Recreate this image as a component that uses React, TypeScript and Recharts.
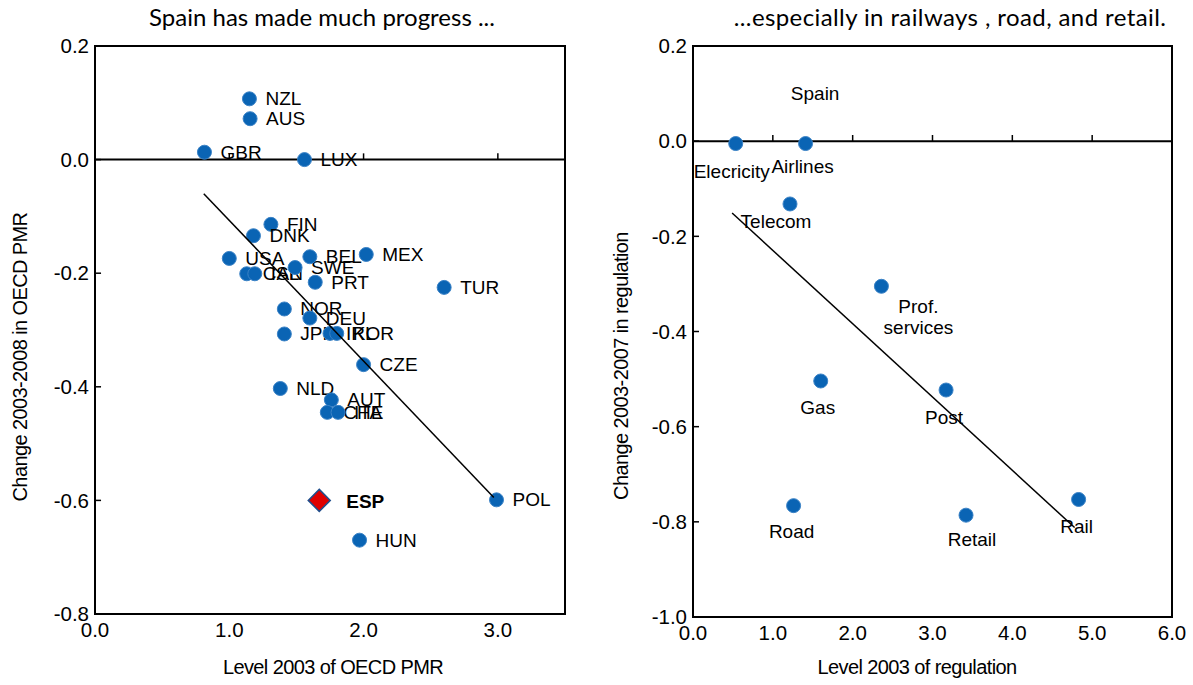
import React from 'react';
import { ScatterChart, Scatter, XAxis, YAxis, ReferenceArea, ReferenceLine, ReferenceDot } from 'recharts';

// Left panel: countries, PMR level 2003 vs change 2003-2008
const countries = ['NZL', 'AUS', 'GBR', 'LUX', 'FIN', 'DNK', 'USA', 'CAN', 'ISL', 'SWE', 'BEL', 'MEX', 'PRT', 'TUR', 'NOR', 'DEU', 'JPN', 'IRL', 'KOR', 'CZE', 'NLD', 'AUT', 'CHE', 'ITA', 'HUN', 'POL'];
const pmrLevel = [1.15, 1.155, 0.815, 1.56, 1.31, 1.18, 1.0, 1.13, 1.19, 1.49, 1.6, 2.02, 1.64, 2.6, 1.41, 1.6, 1.41, 1.75, 1.8, 2.0, 1.38, 1.76, 1.73, 1.81, 1.97, 2.99];
const pmrChange = [0.107, 0.072, 0.013, 0.0, -0.114, -0.134, -0.174, -0.201, -0.201, -0.19, -0.171, -0.167, -0.216, -0.225, -0.263, -0.279, -0.307, -0.306, -0.306, -0.361, -0.403, -0.423, -0.445, -0.445, -0.67, -0.599];
const spainLevel = [1.67];
const spainChange = [-0.6];
const pmrTrendX = [0.81, 2.97];
const pmrTrendY = [-0.06, -0.595];
const leftXTicks = [0, 1, 2, 3];
const leftYTicks = [-0.8, -0.6, -0.4, -0.2, 0, 0.2];

// Right panel: Spanish sectors, regulation level 2003 vs change 2003-2007
const sectors = ['Elecricity', 'Airlines', 'Telecom', 'Prof.|services', 'Gas', 'Post', 'Road', 'Retail', 'Rail'];
const sectorLevel = [0.535, 1.41, 1.215, 2.36, 1.6, 3.17, 1.26, 3.42, 4.83];
const sectorChange = [-0.005, -0.005, -0.132, -0.305, -0.504, -0.523, -0.766, -0.786, -0.753];
const sectorTrendX = [0.49, 4.78];
const sectorTrendY = [-0.151, -0.812];
const rightXTicks = [0, 1, 2, 3, 4, 5, 6];
const rightYTicks = [-1, -0.8, -0.6, -0.4, -0.2, 0, 0.2];

// label offsets (px) for the sector labels, relative to the dot
const sectorLabelPos: Record<string, [number, number]> = {
  'Elecricity': [-4, 28],
  'Airlines': [-3, 23],
  'Telecom': [-14, 18],
  'Prof.|services': [37, 20],
  'Gas': [-3, 27],
  'Post': [-2, 27],
  'Road': [-2, 26],
  'Retail': [6, 24],
  'Rail': [-2, 27],
};

const FONT = '"Liberation Sans", Arial, sans-serif';
const BLUE = '#0a64b4';
const LABEL_SIZE = 19;

const countryData = countries.map((name, i) => ({ name, x: pmrLevel[i], y: pmrChange[i] }));
const spainData = spainLevel.map((x, i) => ({ name: 'ESP', x, y: spainChange[i] }));
const pmrTrend = pmrTrendX.map((x, i) => ({ x, y: pmrTrendY[i] }));
const sectorData = sectors.map((name, i) => ({ name, x: sectorLevel[i], y: sectorChange[i] }));
const sectorTrend = sectorTrendX.map((x, i) => ({ x, y: sectorTrendY[i] }));

const tickStyle = { fontSize: 20.5, fill: '#000', fontFamily: FONT };

function CountryDot(props: any) {
  const { cx, cy, payload } = props;
  return (
    <g>
      <circle cx={cx} cy={cy} r={7} fill={BLUE} stroke="#3a82c6" strokeWidth={1} />
      <text x={cx + 16} y={cy} dominantBaseline="central" fontSize={LABEL_SIZE} fontFamily={FONT} fill="#000">
        {payload.name}
      </text>
    </g>
  );
}

function SpainDot(props: any) {
  const { cx, cy, payload } = props;
  const h = 11;
  return (
    <g>
      <polygon
        points={`${cx},${cy - h} ${cx + h},${cy} ${cx},${cy + h} ${cx - h},${cy}`}
        fill="#e00000"
        stroke="#1f4e8c"
        strokeWidth={1.5}
      />
      <text x={cx + 27} y={cy + 1} dominantBaseline="central" fontSize={LABEL_SIZE} fontWeight="bold" fontFamily={FONT} fill="#000">
        {payload.name}
      </text>
    </g>
  );
}

function SectorDot(props: any) {
  const { cx, cy, payload } = props;
  const [dx, dy] = sectorLabelPos[payload.name] || [0, 25];
  const lines = String(payload.name).split('|');
  return (
    <g>
      <circle cx={cx} cy={cy} r={7} fill={BLUE} stroke="#3a82c6" strokeWidth={1} />
      {lines.map((ln, i) => (
        <text key={i} x={cx + dx} y={cy + dy + i * 21} textAnchor="middle" dominantBaseline="central" fontSize={LABEL_SIZE} fontFamily={FONT} fill="#000">
          {ln}
        </text>
      ))}
    </g>
  );
}

const NoShape = () => <g />;

const titleStyle: React.CSSProperties = {
  position: 'absolute',
  top: 2,
  fontFamily: 'Lato, sans-serif',
  fontSize: 24,
  whiteSpace: 'nowrap',
  transform: 'translateX(-50%)',
  color: '#000',
};

const axisTitleStyle: React.CSSProperties = {
  position: 'absolute',
  fontFamily: FONT,
  fontSize: 20,
  letterSpacing: -0.6,
  whiteSpace: 'nowrap',
  color: '#000',
  lineHeight: '22px',
};

export default function App() {
  return (
    <div style={{ position: 'absolute', left: 0, top: 0, width: 1193, height: 685, background: '#fff', overflow: 'hidden' }}>
      <div style={{ ...titleStyle, left: 322 }}>Spain has made much progress ...</div>
      <div style={{ ...titleStyle, left: 950, letterSpacing: 0.4 }}>...especially in railways , road, and retail.</div>

      <div style={{ position: 'absolute', left: 0, top: 0 }}>
        <ScatterChart width={600} height={685} margin={{ top: 46, right: 35, bottom: 31, left: 35 }}>
          <XAxis type="number" dataKey="x" domain={[0, 3.5]} ticks={leftXTicks} allowDataOverflow
            tick={tickStyle} tickLine={false} axisLine={false} height={40} tickMargin={2}
            tickFormatter={(v) => v.toFixed(1)} />
          <YAxis type="number" dataKey="y" domain={[-0.8, 0.2]} ticks={leftYTicks} allowDataOverflow
            tick={tickStyle} tickLine={false} axisLine={false} width={60} tickMargin={0}
            tickFormatter={(v) => v.toFixed(1)} />
          <ReferenceArea x1={0} x2={3.5} y1={-0.8} y2={0.2} fill="none" stroke="#000" strokeWidth={2} />
          <ReferenceLine y={0} stroke="#000" strokeWidth={2} />
          {leftXTicks.slice(1).map((t) => (
            <ReferenceLine key={'zx' + t} segment={[{ x: t, y: 0 }, { x: t, y: 0.011 }]} stroke="#000" strokeWidth={1.5} />
          ))}
          {leftYTicks.slice(1, -1).map((t) => (
            <ReferenceLine key={'yt' + t} segment={[{ x: 0, y: t }, { x: 0.045, y: t }]} stroke="#000" strokeWidth={1.5} />
          ))}
          <Scatter data={countryData} shape={CountryDot} isAnimationActive={false} />
          <Scatter data={spainData} shape={SpainDot} isAnimationActive={false} />
          <Scatter data={pmrTrend} line={{ stroke: '#000', strokeWidth: 1.5 }} shape={NoShape} isAnimationActive={false} />
        </ScatterChart>
      </div>
      <div style={{ ...axisTitleStyle, left: 333, top: 656, transform: 'translateX(-50%)' }}>Level 2003 of OECD PMR</div>
      <div style={{ ...axisTitleStyle, left: 20, top: 357, transform: 'translate(-50%, -50%) rotate(-90deg)' }}>Change 2003-2008 in OECD PMR</div>

      <div style={{ position: 'absolute', left: 600, top: 0 }}>
        <ScatterChart width={593} height={685} margin={{ top: 46, right: 21, bottom: 28, left: 33 }}>
          <XAxis type="number" dataKey="x" domain={[0, 6]} ticks={rightXTicks} allowDataOverflow
            tick={tickStyle} tickLine={false} axisLine={false} height={40} tickMargin={2}
            tickFormatter={(v) => v.toFixed(1)} />
          <YAxis type="number" dataKey="y" domain={[-1, 0.2]} ticks={rightYTicks} allowDataOverflow
            tick={tickStyle} tickLine={false} axisLine={false} width={60} tickMargin={0}
            tickFormatter={(v) => v.toFixed(1)} />
          <ReferenceArea x1={0} x2={6} y1={-1} y2={0.2} fill="none" stroke="#000" strokeWidth={2} />
          <ReferenceLine y={0} stroke="#000" strokeWidth={2} />
          {rightXTicks.slice(1, -1).map((t) => (
            <ReferenceLine key={'zx' + t} segment={[{ x: t, y: 0 }, { x: t, y: 0.013 }]} stroke="#000" strokeWidth={1.5} />
          ))}
          {rightYTicks.slice(1, -1).map((t) => (
            <ReferenceLine key={'yt' + t} segment={[{ x: 0, y: t }, { x: 0.075, y: t }]} stroke="#000" strokeWidth={1.5} />
          ))}
          <ReferenceDot x={1.53} y={0.1} r={0} fill="none" stroke="none"
            label={{ value: 'Spain', position: 'center', fontSize: LABEL_SIZE, fontFamily: FONT, fill: '#000' }} />
          <Scatter data={sectorData} shape={SectorDot} isAnimationActive={false} />
          <Scatter data={sectorTrend} line={{ stroke: '#000', strokeWidth: 1.5 }} shape={NoShape} isAnimationActive={false} />
        </ScatterChart>
      </div>
      <div style={{ ...axisTitleStyle, left: 917, top: 656, transform: 'translateX(-50%)' }}>Level 2003 of regulation</div>
      <div style={{ ...axisTitleStyle, left: 621, top: 366, transform: 'translate(-50%, -50%) rotate(-90deg)' }}>Change 2003-2007 in regulation</div>
    </div>
  );
}
